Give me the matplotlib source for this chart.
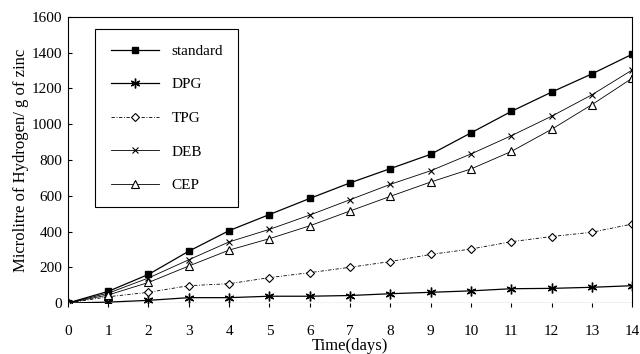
import matplotlib
matplotlib.use('Agg')
from matplotlib import pyplot as plt

# Данные (микролитры водорода на г цинка)
days = list(range(15))
standard = [0, 65, 160, 290, 405, 495, 585, 672, 752, 832, 952, 1072, 1180, 1282, 1392]
dpg = [0, 5, 15, 30, 30, 38, 38, 42, 52, 60, 68, 80, 82, 88, 97]
tpg = [0, 35, 60, 97, 108, 142, 170, 200, 232, 272, 302, 343, 372, 396, 442]
deb = [0, 55, 140, 242, 342, 412, 492, 578, 664, 740, 834, 936, 1045, 1165, 1304]
cep = [0, 45, 115, 207, 296, 360, 432, 515, 597, 677, 750, 848, 972, 1110, 1258]
labels = ['standard', 'DPG', 'TPG', 'DEB', 'CEP']
y_ticks = list(range(0, 1601, 200))

plt.rcParams['font.family'] = ['Liberation Serif', 'DejaVu Serif']

fig = plt.figure(figsize=(6.4, 3.54), dpi=100)
ax = fig.add_axes([0.106, 0.144, 0.882, 0.808])

ax.plot(days, standard, c='black', lw=0.9, marker='s', ms=5, mfc='black', label=labels[0])
ax.plot(days, dpg, c='black', lw=0.9, marker=(6, 2, 0), ms=7, mew=1.0, label=labels[1])
ax.plot(days, tpg, c='black', lw=0.6, ls=(0, (4, 2, 1, 2)), marker='D', ms=4.5, mfc='white',
        mew=0.8, label=labels[2])
ax.plot(days, deb, c='black', lw=0.6, marker='x', ms=5, mew=0.8, label=labels[3])
ax.plot(days, cep, c='black', lw=0.6, marker='^', ms=5.5, mfc='white', mew=0.8, label=labels[4])

ax.axhline(0, c='black', lw=0.8)
ax.set_xlim(0, 14)
ax.set_ylim(0, 1600)
ax.set_xticks(days)
ax.set_yticks(y_ticks)
ax.spines['bottom'].set_visible(False)
for s in ['left', 'top', 'right']:
    ax.spines[s].set_linewidth(0.8)
ax.tick_params(axis='x', direction='out', length=3, pad=13, labelsize=11)
ax.tick_params(axis='y', direction='in', length=3, pad=4, labelsize=11)

ax.set_xlabel('Time(days)', fontsize=12, labelpad=0)
ax.set_ylabel('Microlitre of Hydrogen/ g of zinc', fontsize=12, labelpad=2)

leg = ax.legend(loc='upper left', bbox_to_anchor=(0.035, 0.985), fontsize=11, fancybox=False,
                edgecolor='black', framealpha=1, handlelength=3.2, labelspacing=1.3,
                borderpad=1.0, handletextpad=0.8)
leg.get_frame().set_linewidth(0.8)

plt.savefig('out.png', dpi=100)
